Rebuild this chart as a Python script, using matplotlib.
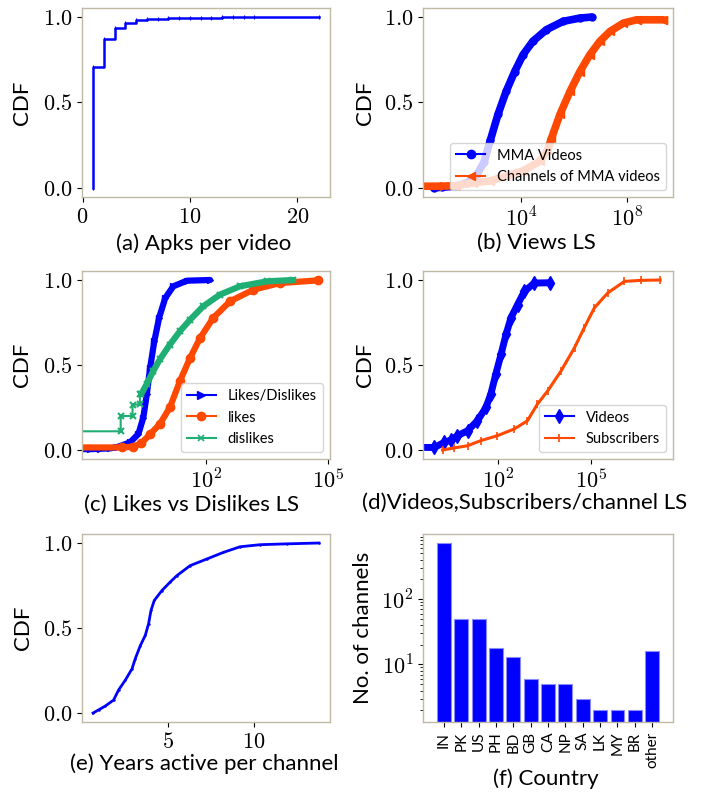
import numpy as np
import matplotlib
matplotlib.use('Agg')
import matplotlib.pyplot as plt
from matplotlib.ticker import FuncFormatter, FixedLocator, NullLocator, NullFormatter, LogLocator
from matplotlib.lines import Line2D

plt.rcParams['font.family'] = ['Lato', 'DejaVu Sans']
plt.rcParams['mathtext.fontset'] = 'cm'

# ---------------- data ----------------
# (a) Apks per video
apk_x = [1, 1, 2, 3, 4, 5, 6, 7, 8, 9, 10, 11, 12, 13, 14, 15, 16, 22]
apk_cdf = [0.0, 0.709, 0.873, 0.937, 0.963, 0.980, 0.986, 0.990, 0.992, 0.994,
           0.995, 0.996, 0.997, 0.998, 0.998, 0.999, 0.999, 1.0]

# (b) Views
vid_views = [5, 10, 35, 90, 200, 400, 700, 1350, 2750, 5750, 12000, 28000, 91000,
             390000, 1660000, 4600000]
vid_views_cdf = [0.0, 0.004, 0.01, 0.03, 0.07, 0.15, 0.28, 0.43, 0.565, 0.68, 0.78,
                 0.858, 0.926, 0.975, 0.994, 1.0]
chan_views = [0, 7, 35, 150, 650, 2750, 12000, 51000, 100000, 141000, 295000, 710000,
              1660000, 4000000, 9500000, 23000000, 74000000, 234000000, 2400000000]
chan_views_cdf = [0.008, 0.01, 0.013, 0.03, 0.04, 0.07, 0.10, 0.156, 0.22, 0.29, 0.43,
                  0.565, 0.68, 0.78, 0.858, 0.916, 0.965, 0.984, 0.984]

# (c) Likes vs dislikes
ratio_x = [0, 0.145, 0.25, 0.45, 0.65, 1.38, 2.2, 2.9, 3.55, 4.25, 5.4, 7.1, 10, 15.8, 34, 126]
ratio_cdf = [0.005, 0.005, 0.007, 0.01, 0.016, 0.045, 0.094, 0.19, 0.33, 0.48, 0.64,
             0.778, 0.894, 0.963, 0.996, 1.0]
likes_x = [0, 0.85, 1.66, 2.6, 4.3, 7.4, 13, 23, 41, 72, 150, 390, 1450, 6500, 56000]
likes_cdf = [0.01, 0.015, 0.02, 0.04, 0.094, 0.153, 0.25, 0.406, 0.543, 0.66, 0.777,
             0.875, 0.943, 0.982, 0.998]
dislikes_x = [0, 0.81, 0.81, 1.58, 1.58, 2.4, 2.4, 2.6, 3.5, 5.1, 7.4, 13, 23, 41, 85,
              220, 680, 3100, 13800]
dislikes_cdf = [0.11, 0.11, 0.20, 0.20, 0.265, 0.27, 0.33, 0.33, 0.387, 0.465, 0.533,
                0.62, 0.699, 0.767, 0.845, 0.914, 0.963, 0.992, 1.0]

# (d) Videos, subscribers per channel
videos_x = [0, 0.9, 1.9, 3, 5, 10.5, 22, 41, 59, 85, 126, 182, 263, 427, 708, 1480, 4800]
videos_cdf = [0.015, 0.015, 0.045, 0.058, 0.084, 0.113, 0.172, 0.25, 0.328, 0.445,
              0.563, 0.68, 0.778, 0.855, 0.933, 0.982, 0.984]
subs_x = [1.66, 3.9, 10.5, 28, 95, 330, 890, 1860, 4000, 10700, 29000, 60000, 126000,
          340000, 1170000, 4100000, 16600000]
subs_cdf = [0.0, 0.012, 0.025, 0.055, 0.084, 0.123, 0.172, 0.27, 0.348, 0.465, 0.602,
            0.72, 0.836, 0.924, 0.992, 0.998, 1.0]

# (e) Years active per channel
years_x = [0.66, 0.98, 1.37, 1.85, 2.14, 2.53, 2.92, 3.11, 3.40, 3.69, 3.88, 4.02, 4.21,
           4.65, 5.13, 5.52, 6.29, 7.26, 8.22, 9.19, 10.34, 11.89, 13.76]
years_cdf = [0.0, 0.018, 0.041, 0.076, 0.135, 0.193, 0.26, 0.32, 0.396, 0.457, 0.525,
             0.603, 0.662, 0.72, 0.77, 0.808, 0.867, 0.906, 0.945, 0.978, 0.99, 0.995, 1.0]

# (f) Country
countries = ['IN', 'PK', 'US', 'PH', 'BD', 'GB', 'CA', 'NP', 'SA', 'LK', 'MY', 'BR', 'other']
channel_counts = [728, 50, 49, 18, 13, 6, 5, 5, 3, 2, 2, 2, 16]

# ---------------- style ----------------
BLUE = '#0000ff'
ORANGE = '#ff4800'
GREEN = '#1fae73'
SPINE = '#bfb9a6'
TICK_FS = 16
LABEL_FS = 16
LEG_FS = 10.5

W, H = 705, 793
fig = plt.figure(figsize=(W / 100, H / 100), dpi=100)


def add_ax(l, t, r, b):
    return fig.add_axes([l / W, 1 - b / H, (r - l) / W, (b - t) / H])


def style(ax):
    for s in ax.spines.values():
        s.set_color(SPINE)
        s.set_linewidth(1.0)
    ax.tick_params(which='both', direction='out', top=False, right=False,
                   labelsize=TICK_FS, color='black')


cdf_fmt = FuncFormatter(lambda v, p: r'$%.1f$' % v)
int_fmt = FuncFormatter(lambda v, p: r'$%d$' % int(round(v)))
log_fmt = FuncFormatter(lambda v, p: r'$10^{%d}$' % int(round(np.log10(v))))


def cdf_axis(ax):
    ax.set_ylim(-0.053, 1.053)
    ax.yaxis.set_major_locator(FixedLocator([0.0, 0.5, 1.0]))
    ax.yaxis.set_major_formatter(cdf_fmt)


def labels(ax, xl, xlx, xly, yl, ylx):
    ax.set_xlabel(xl, fontsize=LABEL_FS)
    ax.xaxis.set_label_coords(xlx, xly)
    ax.set_ylabel(yl, fontsize=LABEL_FS)
    ax.yaxis.set_label_coords(ylx, 0.5)


def leg(ax, handles, names):
    ax.legend(handles, names, loc='lower right', fontsize=LEG_FS, framealpha=0.8)


# (a)
ax = add_ax(82, 8, 330, 197)
style(ax)
ax.step(apk_x, apk_cdf, where='post', color=BLUE, lw=1.8, marker='|', ms=3, mew=0.8)
ax.set_xlim(-0.05, 23.05)
ax.xaxis.set_major_locator(FixedLocator([0, 10, 20]))
ax.xaxis.set_major_formatter(int_fmt)
cdf_axis(ax)
labels(ax, '(a) Apks per video', 0.492, -0.19, 'CDF', -0.2)

# (b)
ax = add_ax(423, 8, 673, 197)
style(ax)
ax.set_xscale('log', nonpositive='clip')
ax.plot(vid_views, vid_views_cdf, color=BLUE, lw=5.5, marker='o', ms=5,
        solid_capstyle='round', solid_joinstyle='round')
ax.plot(chan_views, chan_views_cdf, color=ORANGE, lw=5.5, marker='<', ms=6,
        solid_capstyle='round', solid_joinstyle='round')
ax.plot([chan_views[-2], chan_views[-1]], [chan_views_cdf[-2], chan_views_cdf[-1]],
        color=ORANGE, lw=1.5, marker='<', ms=6)
ax.set_xlim(10 ** 0.30, 10 ** 9.74)
ax.xaxis.set_major_locator(FixedLocator([1e4, 1e8]))
ax.xaxis.set_major_formatter(log_fmt)
ax.xaxis.set_minor_locator(NullLocator())
cdf_axis(ax)
labels(ax, '(b) Views LS', 0.455, -0.19, 'CDF', -0.192)
leg(ax, [Line2D([0], [0], color=BLUE, lw=1.5, marker='o', ms=6),
         Line2D([0], [0], color=ORANGE, lw=1.5, marker='<', ms=6)],
    ['MMA Videos', 'Channels of MMA videos'])

# (c)
ax = add_ax(82, 271, 330, 459)
style(ax)
ax.set_xscale('log', nonpositive='clip')
ax.plot(ratio_x, ratio_cdf, color=BLUE, lw=4.5, marker='>', ms=5,
        solid_capstyle='round', solid_joinstyle='round')
ax.plot(likes_x, likes_cdf, color=ORANGE, lw=4.5, marker='o', ms=6,
        solid_capstyle='round', solid_joinstyle='round')
ax.plot(dislikes_x, dislikes_cdf, color=GREEN, lw=1.5, marker='x', ms=4, mew=1.5)
ax.plot(dislikes_x[7:], dislikes_cdf[7:], color=GREEN, lw=4.5,
        solid_capstyle='round', solid_joinstyle='round')
ax.set_xlim(10 ** -1.04, 10 ** 5.04)
ax.xaxis.set_major_locator(FixedLocator([1e2, 1e5]))
ax.xaxis.set_major_formatter(log_fmt)
ax.xaxis.set_minor_locator(NullLocator())
cdf_axis(ax)
labels(ax, '(c) Likes vs Dislikes LS', 0.442, -0.19, 'CDF', -0.2)
leg(ax, [Line2D([0], [0], color=BLUE, lw=1.5, marker='>', ms=6),
         Line2D([0], [0], color=ORANGE, lw=1.5, marker='o', ms=6),
         Line2D([0], [0], color=GREEN, lw=1.5, marker='x', ms=4, mew=1.2)],
    ['Likes/Dislikes', 'likes', 'dislikes'])

# (d)
ax = add_ax(423, 271, 673, 459)
style(ax)
ax.set_xscale('log', nonpositive='clip')
ax.plot(videos_x, videos_cdf, color=BLUE, lw=5, marker='d', ms=7,
        solid_capstyle='round', solid_joinstyle='round')
ax.plot(subs_x, subs_cdf, color=ORANGE, lw=2.2, marker='|', ms=6, mew=1.2)
ax.set_xlim(10 ** -0.41, 10 ** 7.63)
ax.xaxis.set_major_locator(FixedLocator([1e2, 1e5]))
ax.xaxis.set_major_formatter(log_fmt)
ax.xaxis.set_minor_locator(NullLocator())
cdf_axis(ax)
labels(ax, '(d)Videos,Subscribers/channel LS', 0.408, -0.18, 'CDF', -0.192)
leg(ax, [Line2D([0], [0], color=BLUE, lw=1.5, marker='d', ms=7),
         Line2D([0], [0], color=ORANGE, lw=1.5, marker='|', ms=6, mew=1.2)],
    ['Videos', 'Subscribers'])

# (e)
ax = add_ax(82, 534, 330, 722)
style(ax)
ax.plot(years_x, years_cdf, color=BLUE, lw=2.0, marker='.', ms=1.5)
ax.set_xlim(0.02, 14.4)
ax.xaxis.set_major_locator(FixedLocator([5, 10]))
ax.xaxis.set_major_formatter(int_fmt)
cdf_axis(ax)
labels(ax, '(e) Years active per channel', 0.492, -0.165, 'CDF', -0.196)

# (f)
ax = add_ax(423, 534, 673, 722)
style(ax)
pos = np.arange(len(countries))
ax.bar(pos, channel_counts, width=0.8, color=BLUE, edgecolor='#8a8aff', lw=0.8)
ax.set_yscale('log')
ax.set_ylim(1.32, 990)
ax.set_xlim(-1.2, len(countries) + 0.2)
ax.set_xticks(pos)
ax.set_xticklabels(countries, rotation=90, fontsize=11)
ax.yaxis.set_major_locator(FixedLocator([10, 100]))
ax.yaxis.set_major_formatter(log_fmt)
ax.yaxis.set_minor_locator(LogLocator(base=10, subs=np.arange(2, 10)))
ax.yaxis.set_minor_formatter(NullFormatter())
labels(ax, '(f) Country', 0.491, -0.245, 'No. of channels', -0.199)

fig.savefig('out.png', dpi=100)
